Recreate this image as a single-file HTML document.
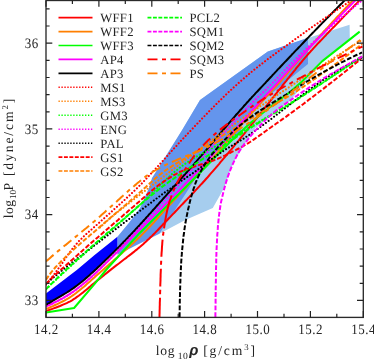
<!DOCTYPE html>
<html><head><meta charset="utf-8"><title>EOS</title>
<style>
html,body{margin:0;padding:0;background:#fff;}
body{width:374px;height:359px;position:relative;overflow:hidden;font-family:"Liberation Serif",serif;}
text{font-family:"Liberation Serif",serif;fill:#222;}
.lg{font-size:12.7px;letter-spacing:0.3px;}
.tk{font-size:14.4px;letter-spacing:0.6px;}
.ax{font-size:13.6px;letter-spacing:0px;}
</style></head><body>
<svg width="374" height="359" viewBox="0 0 374 359" style="position:absolute;left:0;top:0">
<defs><clipPath id="cp"><rect x="46" y="0" width="317.3" height="317.4"/></clipPath></defs>
<g clip-path="url(#cp)">
<polygon points="159.4,233.8 185.3,220.1 212.8,208.1 224.1,188.0 228.8,174.0 234.0,161.7 245.0,143.6 255.3,128.0 290.0,100.7 326.0,57.5 349.8,38.4 349.6,24.7 308.0,38.0 267.8,51.4 200.0,100.0 160.0,167.5" fill="#a6cdee"/>
<polygon points="117.4,236.7 128.8,223.0 140.0,208.0 149.0,188.0 152.0,178.0 182.1,130.0 200.0,100.0 267.8,51.4 308.0,37.8 308.0,64.0 256.8,105.6 241.0,121.0 241.0,134.0 220.3,145.0 198.9,173.0 184.8,195.0 159.4,233.8 117.4,254.8" fill="#6495ed"/>
<polygon points="46.0,293.4 76.8,270.0 94.0,255.4 117.4,236.7 117.4,249.5 94.0,272.0 70.7,291.0 53.4,301.0 46.0,305.6" fill="#0000ff"/>
<path d="M46.0,311.0 L47.9,310.4 L49.8,309.8 L51.7,309.1 L53.6,308.4 L55.5,307.7 L57.4,307.0 L59.3,306.3 L61.1,305.5 L63.0,304.7 L64.9,303.9 L66.7,303.1 L68.5,302.2 L70.3,301.3 L72.0,300.3 L73.7,299.2 L75.4,298.1 L77.0,296.9 L78.7,295.7 L80.3,294.5 L81.9,293.3 L83.5,292.1 L85.0,290.8 L86.6,289.5 L88.1,288.2 L89.7,286.9 L91.2,285.6 L92.7,284.3 L94.3,283.0 L95.8,281.7 L97.4,280.4 L99.0,279.2 L100.5,277.9 L102.1,276.6 L103.7,275.4 L105.2,274.1 L106.8,272.9 L108.4,271.6 L109.9,270.4 L111.5,269.1 L113.1,267.9 L114.7,266.6 L116.3,265.4 L117.9,264.2 L119.5,263.0 L121.1,261.7 L122.7,260.5 L124.3,259.3 L125.9,258.1 L127.5,256.8 L129.1,255.6 L130.7,254.4 L132.3,253.1 L133.9,251.9 L135.4,250.6 L137.0,249.4 L138.5,248.1 L140.1,246.8 L141.6,245.5 L143.1,244.2 L144.6,242.8 L146.1,241.5 L147.6,240.1 L149.1,238.7 L150.5,237.3 L152.0,235.9 L153.4,234.5 L154.8,233.1 L156.2,231.6 L157.6,230.2 L159.0,228.7 L160.4,227.2 L161.8,225.8 L163.1,224.3 L164.5,222.9 L165.9,221.4 L167.3,220.0 L168.7,218.5 L170.1,217.1 L171.5,215.6 L172.9,214.1 L174.3,212.7 L175.7,211.2 L177.1,209.8 L178.5,208.3 L179.8,206.9 L181.2,205.4 L182.6,204.0 L184.0,202.5 L185.4,201.0 L186.8,199.6 L188.2,198.1 L189.6,196.7 L191.0,195.2 L192.4,193.8 L193.8,192.3 L195.1,190.8 L196.5,189.4 L197.9,187.9 L199.3,186.4 L200.6,184.9 L202.0,183.5 L203.3,182.0 L204.7,180.5 L206.0,179.0 L207.4,177.5 L208.7,176.0 L210.0,174.4 L211.3,172.9 L212.7,171.4 L214.0,169.9 L215.3,168.4 L216.6,166.8 L217.9,165.3 L219.2,163.8 L220.5,162.2 L221.8,160.7 L223.1,159.1 L224.4,157.6 L225.7,156.1 L227.0,154.5 L228.3,153.0 L229.6,151.4 L230.9,149.9 L232.2,148.3 L233.4,146.8 L234.7,145.2 L236.0,143.7 L237.3,142.1 L238.6,140.6 L239.8,139.0 L241.1,137.5 L242.4,135.9 L243.7,134.3 L244.9,132.8 L246.2,131.2 L247.5,129.6 L248.7,128.1 L250.0,126.5 L251.2,124.9 L252.5,123.4 L253.8,121.8 L255.0,120.2 L256.3,118.6 L257.5,117.1 L258.8,115.5 L260.0,113.9 L261.3,112.3 L262.5,110.8 L263.8,109.2 L265.0,107.6 L266.3,106.0 L267.5,104.4 L268.8,102.9 L270.0,101.3 L271.3,99.7 L272.5,98.1 L273.8,96.6 L275.0,95.0 L276.3,93.4 L277.5,91.8 L278.8,90.2 L280.0,88.7 L281.3,87.1 L282.5,85.5 L283.8,83.9 L285.0,82.4 L286.3,80.8 L287.5,79.2 L288.8,77.6 L290.0,76.0 L291.3,74.5 L292.6,72.9 L293.8,71.3 L295.1,69.8 L296.3,68.2 L297.6,66.6 L298.9,65.1 L300.2,63.5 L301.5,62.0 L302.8,60.4 L304.1,58.9 L305.4,57.4 L306.7,55.9 L308.0,54.3 L309.4,52.8 L310.7,51.3 L312.1,49.9 L313.4,48.4 L314.8,46.9 L316.2,45.4 L317.5,43.9 L318.9,42.5 L320.3,41.0 L321.7,39.6 L323.1,38.1 L324.5,36.6 L325.9,35.2 L327.2,33.7 L328.6,32.3 L330.0,30.8 L331.4,29.4 L332.8,27.9 L334.3,26.5 L335.7,25.1 L337.1,23.6 L338.4,22.2 L339.8,20.7 L341.2,19.3 L342.6,17.8 L344.0,16.4 L345.4,14.9 L346.8,13.5 L348.2,12.0 L349.6,10.6 L351.1,9.1 L352.5,7.7 L353.9,6.3 L355.3,4.8 L356.7,3.4 L358.1,1.9 L359.5,0.5" fill="none" stroke="#f00" stroke-width="2.0" stroke-linejoin="round"/>
<path d="M46.0,309.0 L47.9,308.3 L49.7,307.5 L51.6,306.7 L53.4,305.9 L55.2,305.0 L57.1,304.2 L58.9,303.3 L60.7,302.4 L62.5,301.5 L64.3,300.6 L66.0,299.6 L67.8,298.6 L69.5,297.6 L71.2,296.5 L72.8,295.4 L74.5,294.2 L76.1,293.0 L77.6,291.8 L79.2,290.5 L80.8,289.2 L82.3,288.0 L83.9,286.7 L85.4,285.4 L86.9,284.0 L88.4,282.7 L89.9,281.4 L91.4,280.0 L92.9,278.7 L94.4,277.4 L95.9,276.0 L97.4,274.7 L99.0,273.4 L100.5,272.1 L102.0,270.7 L103.5,269.4 L105.0,268.1 L106.5,266.8 L108.0,265.4 L109.5,264.1 L111.0,262.8 L112.5,261.5 L114.1,260.1 L115.6,258.8 L117.1,257.5 L118.6,256.1 L120.1,254.8 L121.6,253.5 L123.1,252.1 L124.6,250.8 L126.1,249.5 L127.6,248.1 L129.1,246.8 L130.6,245.4 L132.0,244.0 L133.5,242.7 L135.0,241.3 L136.4,239.9 L137.9,238.5 L139.3,237.2 L140.8,235.8 L142.2,234.4 L143.6,232.9 L145.0,231.5 L146.4,230.1 L147.8,228.6 L149.2,227.2 L150.6,225.7 L152.0,224.2 L153.4,222.8 L154.7,221.3 L156.1,219.8 L157.5,218.3 L158.8,216.9 L160.1,215.4 L161.5,213.9 L162.8,212.4 L164.2,210.9 L165.5,209.4 L166.9,207.9 L168.3,206.4 L169.6,205.0 L171.0,203.5 L172.4,202.0 L173.7,200.6 L175.1,199.1 L176.5,197.6 L177.9,196.2 L179.2,194.7 L180.6,193.2 L182.0,191.8 L183.4,190.3 L184.7,188.8 L186.1,187.4 L187.5,185.9 L188.8,184.4 L190.2,183.0 L191.6,181.5 L192.9,180.0 L194.3,178.5 L195.7,177.1 L197.0,175.6 L198.4,174.1 L199.7,172.6 L201.1,171.1 L202.4,169.6 L203.8,168.1 L205.1,166.6 L206.4,165.1 L207.8,163.6 L209.1,162.1 L210.4,160.6 L211.8,159.1 L213.1,157.6 L214.4,156.1 L215.7,154.6 L217.1,153.1 L218.4,151.6 L219.7,150.0 L221.0,148.5 L222.3,147.0 L223.7,145.5 L225.0,144.0 L226.3,142.5 L227.6,140.9 L228.9,139.4 L230.2,137.9 L231.6,136.4 L232.9,134.9 L234.2,133.3 L235.5,131.8 L236.8,130.3 L238.1,128.8 L239.4,127.3 L240.7,125.7 L242.0,124.2 L243.3,122.7 L244.6,121.1 L245.9,119.6 L247.3,118.1 L248.6,116.6 L249.9,115.0 L251.2,113.5 L252.6,112.0 L253.9,110.6 L255.2,109.1 L256.6,107.6 L258.0,106.1 L259.3,104.6 L260.7,103.1 L262.0,101.6 L263.4,100.1 L264.7,98.6 L266.1,97.2 L267.4,95.7 L268.8,94.2 L270.1,92.7 L271.5,91.2 L272.8,89.7 L274.2,88.3 L275.5,86.8 L276.9,85.3 L278.2,83.8 L279.5,82.3 L280.9,80.8 L282.2,79.3 L283.5,77.7 L284.8,76.2 L286.2,74.7 L287.5,73.2 L288.8,71.7 L290.1,70.1 L291.4,68.6 L292.7,67.1 L294.0,65.6 L295.3,64.0 L296.6,62.5 L298.0,61.0 L299.3,59.5 L300.6,58.0 L301.9,56.4 L303.2,54.9 L304.5,53.4 L305.8,51.8 L307.1,50.3 L308.4,48.8 L309.8,47.3 L311.1,45.8 L312.4,44.3 L313.7,42.8 L315.1,41.3 L316.4,39.8 L317.8,38.3 L319.1,36.8 L320.4,35.3 L321.8,33.8 L323.1,32.3 L324.5,30.8 L325.8,29.3 L327.2,27.9 L328.6,26.4 L329.9,24.9 L331.3,23.4 L332.6,21.9 L334.0,20.5 L335.4,19.0 L336.7,17.5 L338.1,16.0 L339.5,14.6 L340.8,13.1 L342.2,11.6 L343.6,10.2 L345.0,8.7 L346.4,7.3 L347.7,5.8 L349.1,4.4 L350.5,2.9 L351.9,1.4 L353.3,0.0" fill="none" stroke="#ff7f00" stroke-width="2.0" stroke-linejoin="round"/>
<path d="M46.0,312.5 L74.1,308.0 L94.0,284.7 L106.0,270.0 L140.0,232.7 L166.4,206.4 L200.0,172.7 L230.0,142.0 L250.0,123.2 L271.4,106.0 L290.0,92.1 L301.4,82.1 L322.0,61.4 L359.7,31.6" fill="none" stroke="#0f0" stroke-width="2.0" stroke-linejoin="round"/>
<path d="M46.0,306.5 L47.8,305.7 L49.7,304.9 L51.5,304.0 L53.3,303.1 L55.1,302.2 L56.9,301.3 L58.7,300.4 L60.5,299.4 L62.3,298.5 L64.0,297.5 L65.8,296.4 L67.5,295.4 L69.2,294.3 L70.9,293.2 L72.5,292.1 L74.2,291.0 L75.8,289.8 L77.4,288.5 L79.0,287.3 L80.6,286.0 L82.2,284.8 L83.7,283.5 L85.3,282.2 L86.8,280.9 L88.3,279.6 L89.9,278.3 L91.4,276.9 L92.9,275.6 L94.4,274.2 L95.8,272.9 L97.3,271.5 L98.8,270.1 L100.2,268.7 L101.7,267.3 L103.1,265.9 L104.6,264.5 L106.0,263.1 L107.4,261.7 L108.9,260.2 L110.3,258.8 L111.8,257.4 L113.2,256.0 L114.6,254.6 L116.1,253.2 L117.5,251.8 L118.9,250.3 L120.3,248.9 L121.8,247.5 L123.2,246.1 L124.6,244.6 L126.1,243.2 L127.5,241.8 L128.9,240.4 L130.3,239.0 L131.8,237.5 L133.2,236.1 L134.6,234.7 L136.1,233.3 L137.5,231.9 L138.9,230.4 L140.4,229.0 L141.8,227.6 L143.2,226.2 L144.7,224.8 L146.1,223.4 L147.5,221.9 L149.0,220.5 L150.4,219.1 L151.8,217.7 L153.3,216.3 L154.7,214.9 L156.1,213.4 L157.6,212.0 L159.0,210.6 L160.4,209.2 L161.9,207.8 L163.3,206.3 L164.7,204.9 L166.1,203.5 L167.5,202.1 L169.0,200.6 L170.4,199.2 L171.8,197.8 L173.2,196.3 L174.6,194.9 L176.0,193.4 L177.5,192.0 L178.9,190.6 L180.3,189.1 L181.7,187.7 L183.1,186.2 L184.5,184.8 L185.9,183.3 L187.3,181.9 L188.7,180.4 L190.1,179.0 L191.5,177.5 L192.9,176.1 L194.3,174.6 L195.7,173.2 L197.1,171.7 L198.4,170.2 L199.8,168.8 L201.2,167.3 L202.6,165.8 L203.9,164.3 L205.3,162.9 L206.7,161.4 L208.0,159.9 L209.4,158.4 L210.7,156.9 L212.1,155.4 L213.4,153.9 L214.8,152.4 L216.1,150.9 L217.5,149.4 L218.8,147.9 L220.2,146.4 L221.5,144.9 L222.9,143.4 L224.2,141.9 L225.5,140.4 L226.9,138.9 L228.2,137.4 L229.6,135.9 L230.9,134.4 L232.2,132.9 L233.6,131.4 L234.9,129.9 L236.3,128.4 L237.6,126.8 L238.9,125.3 L240.3,123.8 L241.6,122.3 L243.0,120.8 L244.3,119.3 L245.6,117.8 L247.0,116.3 L248.3,114.8 L249.6,113.3 L251.0,111.8 L252.3,110.3 L253.7,108.8 L255.1,107.3 L256.4,105.8 L257.8,104.3 L259.1,102.8 L260.5,101.3 L261.8,99.9 L263.2,98.4 L264.5,96.9 L265.9,95.4 L267.2,93.9 L268.6,92.4 L270.0,90.9 L271.3,89.4 L272.7,87.9 L274.0,86.4 L275.4,84.9 L276.7,83.4 L278.1,81.9 L279.4,80.4 L280.8,78.9 L282.1,77.4 L283.5,75.9 L284.8,74.4 L286.2,72.9 L287.5,71.4 L288.9,69.9 L290.2,68.4 L291.6,66.9 L292.9,65.5 L294.3,64.0 L295.7,62.5 L297.0,61.0 L298.4,59.5 L299.8,58.1 L301.1,56.6 L302.5,55.1 L303.9,53.7 L305.3,52.2 L306.7,50.7 L308.1,49.3 L309.5,47.8 L310.8,46.3 L312.2,44.9 L313.6,43.4 L315.0,42.0 L316.4,40.5 L317.8,39.1 L319.2,37.6 L320.6,36.1 L322.0,34.7 L323.4,33.2 L324.8,31.8 L326.2,30.3 L327.6,28.9 L329.0,27.4 L330.4,26.0 L331.8,24.5 L333.2,23.1 L334.6,21.6 L336.0,20.2 L337.4,18.7 L338.8,17.3 L340.2,15.8 L341.6,14.4 L343.0,12.9 L344.4,11.5 L345.8,10.1 L347.2,8.6 L348.6,7.2 L350.0,5.7 L351.5,4.3 L352.9,2.9 L354.3,1.4 L355.7,-0.0" fill="none" stroke="#f0f" stroke-width="2.0" stroke-linejoin="round"/>
<path d="M46.0,304.8 L47.7,303.8 L49.5,302.8 L51.2,301.8 L52.9,300.7 L54.7,299.7 L56.4,298.7 L58.1,297.7 L59.9,296.6 L61.6,295.6 L63.3,294.6 L65.1,293.5 L66.8,292.5 L68.5,291.4 L70.2,290.3 L71.8,289.2 L73.5,288.1 L75.1,286.9 L76.7,285.7 L78.3,284.5 L79.9,283.3 L81.5,282.0 L83.1,280.7 L84.6,279.5 L86.1,278.1 L87.7,276.8 L89.2,275.5 L90.6,274.1 L92.1,272.8 L93.6,271.4 L95.1,270.0 L96.6,268.7 L98.0,267.3 L99.5,265.9 L101.0,264.5 L102.4,263.1 L103.9,261.7 L105.3,260.3 L106.7,258.9 L108.2,257.5 L109.6,256.1 L111.0,254.7 L112.5,253.3 L113.9,251.9 L115.3,250.4 L116.7,249.0 L118.2,247.6 L119.6,246.2 L121.0,244.7 L122.4,243.3 L123.8,241.8 L125.2,240.4 L126.6,238.9 L128.0,237.5 L129.3,236.0 L130.7,234.6 L132.1,233.1 L133.5,231.6 L134.9,230.2 L136.2,228.7 L137.6,227.2 L139.0,225.8 L140.3,224.3 L141.7,222.8 L143.0,221.3 L144.4,219.8 L145.7,218.3 L147.1,216.8 L148.4,215.3 L149.8,213.8 L151.1,212.3 L152.4,210.8 L153.8,209.3 L155.1,207.8 L156.4,206.3 L157.8,204.8 L159.1,203.3 L160.5,201.8 L161.8,200.3 L163.1,198.8 L164.5,197.3 L165.8,195.8 L167.1,194.3 L168.5,192.8 L169.8,191.3 L171.1,189.8 L172.5,188.3 L173.8,186.8 L175.2,185.3 L176.5,183.8 L177.8,182.3 L179.2,180.8 L180.5,179.3 L181.9,177.8 L183.2,176.3 L184.6,174.8 L185.9,173.3 L187.3,171.8 L188.6,170.3 L189.9,168.8 L191.3,167.3 L192.6,165.8 L193.9,164.3 L195.2,162.7 L196.6,161.2 L197.9,159.7 L199.2,158.2 L200.5,156.7 L201.8,155.1 L203.1,153.6 L204.4,152.1 L205.8,150.6 L207.1,149.0 L208.4,147.5 L209.7,146.0 L211.0,144.4 L212.3,142.9 L213.6,141.4 L214.8,139.8 L216.1,138.3 L217.4,136.7 L218.7,135.2 L220.0,133.6 L221.3,132.1 L222.6,130.6 L223.9,129.0 L225.2,127.5 L226.5,126.0 L227.8,124.5 L229.2,122.9 L230.5,121.4 L231.8,119.9 L233.1,118.4 L234.4,116.9 L235.7,115.3 L237.1,113.8 L238.4,112.3 L239.7,110.8 L241.1,109.3 L242.4,107.8 L243.7,106.3 L245.1,104.8 L246.4,103.3 L247.8,101.8 L249.1,100.3 L250.5,98.8 L251.8,97.3 L253.2,95.9 L254.6,94.4 L255.9,92.9 L257.3,91.5 L258.7,90.0 L260.1,88.5 L261.4,87.1 L262.8,85.6 L264.2,84.1 L265.6,82.7 L266.9,81.2 L268.3,79.7 L269.7,78.3 L271.1,76.8 L272.4,75.3 L273.8,73.9 L275.2,72.4 L276.6,70.9 L277.9,69.4 L279.3,68.0 L280.7,66.5 L282.1,65.0 L283.4,63.6 L284.8,62.1 L286.2,60.7 L287.6,59.2 L289.0,57.7 L290.4,56.3 L291.7,54.8 L293.1,53.4 L294.5,51.9 L295.9,50.4 L297.3,49.0 L298.7,47.5 L300.1,46.1 L301.5,44.6 L302.8,43.2 L304.2,41.7 L305.6,40.3 L307.0,38.8 L308.4,37.4 L309.8,35.9 L311.2,34.5 L312.6,33.0 L314.0,31.6 L315.4,30.1 L316.8,28.7 L318.2,27.3 L319.6,25.8 L321.0,24.4 L322.4,22.9 L323.8,21.5 L325.2,20.1 L326.6,18.6 L328.0,17.2 L329.5,15.7 L330.9,14.3 L332.3,12.9 L333.7,11.4 L335.1,10.0 L336.5,8.6 L337.9,7.1 L339.3,5.7 L340.7,4.3 L342.2,2.9 L343.6,1.4 L345.0,0.0" fill="none" stroke="#000" stroke-width="2.0" stroke-linejoin="round"/>
<path d="M46.0,284.5 L47.3,283.0 L48.6,281.4 L49.8,279.8 L51.1,278.3 L52.3,276.7 L53.6,275.1 L54.8,273.5 L56.0,271.9 L57.2,270.3 L58.3,268.6 L59.5,267.0 L60.7,265.4 L61.8,263.7 L63.0,262.0 L64.1,260.4 L65.2,258.7 L66.4,257.1 L67.5,255.4 L68.7,253.8 L69.9,252.2 L71.1,250.6 L72.3,249.0 L73.6,247.4 L74.9,245.8 L76.1,244.3 L77.5,242.8 L78.8,241.3 L80.2,239.9 L81.7,238.5 L83.1,237.0 L84.6,235.6 L86.0,234.3 L87.5,232.9 L89.0,231.6 L90.5,230.3 L92.1,229.0 L93.6,227.6 L95.1,226.3 L96.6,225.0 L98.1,223.6 L99.6,222.3 L101.1,220.9 L102.6,219.6 L104.1,218.3 L105.6,216.9 L107.1,215.6 L108.6,214.3 L110.1,212.9 L111.6,211.6 L113.1,210.3 L114.6,208.9 L116.1,207.6 L117.6,206.2 L119.1,204.9 L120.6,203.5 L122.1,202.2 L123.6,200.8 L125.1,199.5 L126.5,198.1 L128.0,196.7 L129.5,195.4 L131.0,194.0 L132.4,192.6 L133.9,191.2 L135.3,189.8 L136.8,188.4 L138.2,187.0 L139.6,185.6 L141.0,184.2 L142.5,182.8 L143.8,181.3 L145.2,179.9 L146.6,178.4 L148.0,176.9 L149.4,175.5 L150.7,174.0 L152.1,172.5 L153.5,171.1 L154.8,169.6 L156.2,168.1 L157.6,166.6 L158.9,165.1 L160.3,163.6 L161.6,162.1 L163.0,160.7 L164.3,159.2 L165.7,157.7 L167.0,156.2 L168.4,154.7 L169.7,153.2 L171.0,151.7 L172.4,150.2 L173.8,148.7 L175.1,147.2 L176.5,145.8 L177.8,144.3 L179.2,142.8 L180.5,141.3 L181.9,139.8 L183.3,138.4 L184.7,136.9 L186.0,135.4 L187.4,134.0 L188.8,132.5 L190.2,131.1 L191.6,129.6 L193.0,128.2 L194.3,126.7 L195.7,125.2 L197.1,123.8 L198.5,122.3 L199.9,120.9 L201.3,119.4 L202.7,118.0 L204.1,116.5 L205.5,115.1 L206.9,113.6 L208.3,112.2 L209.7,110.7 L211.1,109.3 L212.5,107.9 L213.9,106.5 L215.4,105.0 L216.8,103.6 L218.2,102.2 L219.6,100.8 L221.1,99.4 L222.5,98.0 L223.9,96.6 L225.4,95.2 L226.8,93.8 L228.3,92.4 L229.8,91.0 L231.2,89.7 L232.7,88.3 L234.2,86.9 L235.7,85.6 L237.2,84.2 L238.7,82.9 L240.2,81.5 L241.7,80.2 L243.2,78.9 L244.7,77.6 L246.3,76.3 L247.8,75.0 L249.3,73.7 L250.9,72.4 L252.4,71.2 L254.0,69.9 L255.6,68.6 L257.1,67.4 L258.7,66.1 L260.3,64.9 L261.9,63.7 L263.5,62.5 L265.1,61.2 L266.7,60.0 L268.3,58.8 L269.9,57.6 L271.5,56.4 L273.1,55.2 L274.7,54.0 L276.4,52.8 L278.0,51.6 L279.6,50.4 L281.2,49.2 L282.9,48.0 L284.5,46.9 L286.1,45.7 L287.8,44.5 L289.4,43.3 L291.0,42.2 L292.7,41.0 L294.3,39.8 L295.9,38.6 L297.6,37.5 L299.2,36.3 L300.8,35.1 L302.5,34.0 L304.1,32.8 L305.7,31.6 L307.4,30.5 L309.0,29.3 L310.7,28.1 L312.3,27.0 L313.9,25.8 L315.6,24.7 L317.2,23.5 L318.9,22.4 L320.5,21.2 L322.2,20.1 L323.8,18.9 L325.5,17.8 L327.2,16.6 L328.8,15.5 L330.5,14.4 L332.1,13.2 L333.8,12.1 L335.5,11.0 L337.1,9.8 L338.8,8.7 L340.5,7.6 L342.1,6.5 L343.8,5.4 L345.5,4.2 L347.1,3.1 L348.8,2.0 L350.5,0.9" fill="none" stroke="#f00" stroke-width="2.1" stroke-linejoin="round" stroke-dasharray="0.01 3.4" stroke-linecap="round"/>
<path d="M100.0,227.5 L101.5,226.1 L102.9,224.7 L104.4,223.3 L105.9,222.0 L107.4,220.7 L108.9,219.3 L110.5,218.0 L112.0,216.7 L113.5,215.5 L115.1,214.2 L116.7,212.9 L118.2,211.6 L119.8,210.4 L121.4,209.1 L123.0,207.9 L124.6,206.6 L126.1,205.4 L127.7,204.2 L129.3,202.9 L130.9,201.7 L132.5,200.4 L134.1,199.2 L135.7,198.0 L137.3,196.7 L138.9,195.5 L140.5,194.3 L142.1,193.0 L143.7,191.8 L145.3,190.5 L146.8,189.3 L148.4,188.1 L150.0,186.9 L151.6,185.6 L153.2,184.4 L154.8,183.2 L156.5,182.0 L158.1,180.7 L159.7,179.5 L161.3,178.3 L162.9,177.1 L164.5,175.9 L166.1,174.6 L167.7,173.4 L169.3,172.2 L170.9,171.0 L172.5,169.7 L174.1,168.5 L175.7,167.3 L177.3,166.1 L178.9,164.8 L180.5,163.6 L182.1,162.4 L183.7,161.2 L185.3,160.0 L186.9,158.8 L188.5,157.6 L190.1,156.3 L191.8,155.1 L193.4,153.9 L195.0,152.7 L196.6,151.5 L198.2,150.3 L199.8,149.1 L201.4,147.9 L203.1,146.7 L204.7,145.5 L206.3,144.3 L207.9,143.1 L209.5,141.9 L211.2,140.7 L212.8,139.5 L214.4,138.3 L216.0,137.1 L217.7,135.9 L219.3,134.7 L220.9,133.6 L222.6,132.4 L224.2,131.2 L225.8,130.0 L227.5,128.9 L229.1,127.7 L230.8,126.5 L232.4,125.4 L234.1,124.2 L235.7,123.1 L237.4,121.9 L239.0,120.8 L240.7,119.6 L242.3,118.5 L244.0,117.3 L245.6,116.2 L247.3,115.0 L249.0,113.9 L250.6,112.8 L252.3,111.6 L254.0,110.5 L255.6,109.4 L257.3,108.3 L259.0,107.1 L260.7,106.0 L262.3,104.9 L264.0,103.8 L265.7,102.6 L267.4,101.5 L269.0,100.4 L270.7,99.3 L272.4,98.2 L274.1,97.1 L275.8,95.9 L277.4,94.8 L279.1,93.7 L280.8,92.6 L282.5,91.5 L284.2,90.4 L285.9,89.3 L287.5,88.2 L289.2,87.1 L290.9,85.9 L292.6,84.8 L294.3,83.7 L296.0,82.6 L297.6,81.5 L299.3,80.4 L301.0,79.3 L302.7,78.2 L304.4,77.1 L306.1,76.0 L307.7,74.9 L309.4,73.8 L311.1,72.7 L312.8,71.6 L314.5,70.5 L316.2,69.4 L317.9,68.3 L319.6,67.2 L321.3,66.1 L322.9,65.0 L324.6,63.9 L326.3,62.8 L328.0,61.7 L329.7,60.6 L331.4,59.5 L333.1,58.4 L334.8,57.3 L336.5,56.2 L338.2,55.2 L339.9,54.1 L341.6,53.0 L343.3,51.9 L345.0,50.8 L346.7,49.7 L348.4,48.6 L350.1,47.6 L351.8,46.5 L353.5,45.4 L355.2,44.3 L356.9,43.2 L358.6,42.2 L360.3,41.1 L362.0,40.0" fill="none" stroke="#ff7f00" stroke-width="2.1" stroke-linejoin="round" stroke-dasharray="0.01 3.4" stroke-linecap="round"/>
<path d="M46.0,289.0 L47.5,287.6 L49.0,286.2 L50.4,284.9 L51.9,283.5 L53.4,282.1 L54.9,280.7 L56.4,279.4 L57.8,278.0 L59.3,276.6 L60.8,275.3 L62.3,273.9 L63.8,272.5 L65.3,271.2 L66.8,269.8 L68.3,268.4 L69.7,267.1 L71.2,265.7 L72.7,264.3 L74.2,263.0 L75.7,261.6 L77.2,260.2 L78.7,258.9 L80.2,257.5 L81.7,256.2 L83.2,254.8 L84.7,253.5 L86.2,252.1 L87.7,250.8 L89.2,249.4 L90.7,248.1 L92.2,246.7 L93.7,245.4 L95.2,244.0 L96.7,242.7 L98.3,241.4 L99.8,240.1 L101.3,238.7 L102.8,237.4 L104.4,236.1 L105.9,234.8 L107.5,233.5 L109.0,232.2 L110.5,230.9 L112.1,229.5 L113.6,228.2 L115.1,226.9 L116.6,225.6 L118.2,224.2 L119.7,222.9 L121.2,221.6 L122.7,220.2 L124.2,218.9 L125.7,217.6 L127.2,216.2 L128.8,214.9 L130.3,213.5 L131.8,212.2 L133.3,210.8 L134.8,209.5 L136.3,208.1 L137.7,206.8 L139.2,205.4 L140.7,204.0 L142.2,202.6 L143.7,201.3 L145.1,199.9 L146.6,198.4 L148.0,197.0 L149.5,195.6 L150.9,194.2 L152.4,192.8 L153.8,191.3 L155.2,189.9 L156.7,188.5 L158.1,187.1 L159.6,185.7 L161.0,184.2 L162.5,182.8 L163.9,181.4 L165.4,180.1 L166.9,178.7 L168.4,177.3 L169.9,176.0 L171.4,174.6 L172.9,173.3 L174.4,172.0 L176.0,170.7 L177.5,169.5 L179.1,168.2 L180.7,167.0 L182.4,165.8 L184.0,164.6 L185.7,163.4 L187.3,162.3 L189.0,161.2 L190.7,160.2 L192.4,159.1 L194.1,158.1 L195.9,157.0 L197.6,156.0 L199.4,155.0 L201.1,154.0 L202.9,153.1 L204.7,152.1 L206.5,151.1 L208.3,150.2 L210.0,149.2 L211.8,148.3 L213.6,147.3 L215.4,146.4 L217.2,145.4 L219.0,144.5 L220.8,143.5 L222.6,142.6 L224.4,141.6 L226.1,140.6 L227.9,139.7 L229.7,138.7 L231.4,137.7 L233.2,136.7 L234.9,135.7 L236.7,134.7 L238.5,133.7 L240.2,132.7 L242.0,131.7 L243.7,130.7 L245.5,129.7 L247.2,128.7 L249.0,127.7 L250.7,126.7 L252.5,125.7 L254.2,124.7 L256.0,123.6 L257.7,122.6 L259.5,121.6 L261.2,120.6 L262.9,119.5 L264.7,118.5 L266.4,117.5 L268.1,116.4 L269.9,115.4 L271.6,114.3 L273.3,113.3 L275.1,112.3 L276.8,111.3 L278.6,110.3 L280.3,109.2 L282.1,108.2 L283.8,107.2 L285.5,106.1 L287.3,105.1 L289.0,104.1 L290.7,103.0 L292.4,102.0 L294.1,100.9 L295.9,99.8 L297.6,98.7 L299.3,97.7 L301.0,96.6 L302.7,95.5 L304.4,94.4 L306.1,93.3 L307.8,92.2 L309.5,91.1 L311.2,90.0 L312.9,88.9 L314.6,87.9 L316.3,86.8 L318.0,85.7 L319.7,84.6 L321.4,83.5 L323.1,82.4 L324.8,81.3 L326.5,80.2 L328.2,79.1 L329.9,78.0 L331.6,76.9 L333.3,75.8 L335.0,74.7 L336.7,73.6 L338.4,72.5 L340.0,71.4 L341.7,70.3 L343.4,69.2 L345.1,68.1 L346.8,67.0 L348.5,65.9 L350.2,64.8 L351.9,63.7 L353.6,62.6 L355.3,61.5 L356.9,60.3 L358.6,59.2 L360.3,58.1 L362.0,57.0" fill="none" stroke="#0f0" stroke-width="2.1" stroke-linejoin="round" stroke-dasharray="0.01 3.4" stroke-linecap="round"/>
<path d="M46.0,306.5 L47.8,305.7 L49.7,304.9 L51.5,304.0 L53.3,303.1 L55.1,302.2 L56.9,301.3 L58.7,300.4 L60.5,299.4 L62.3,298.5 L64.0,297.5 L65.8,296.4 L67.5,295.4 L69.2,294.3 L70.9,293.3 L72.5,292.1 L74.2,291.0 L75.8,289.8 L77.4,288.5 L79.0,287.3 L80.6,286.0 L82.2,284.8 L83.7,283.5 L85.3,282.2 L86.8,280.9 L88.3,279.6 L89.9,278.3 L91.4,276.9 L92.9,275.6 L94.4,274.2 L95.8,272.9 L97.3,271.5 L98.7,270.0 L100.1,268.6 L101.6,267.2 L103.0,265.8 L104.4,264.4 L105.8,262.9 L107.3,261.5 L108.7,260.1 L110.1,258.6 L111.5,257.2 L112.9,255.7 L114.3,254.3 L115.7,252.9 L117.1,251.4 L118.5,250.0 L119.9,248.5 L121.3,247.0 L122.7,245.6 L124.1,244.1 L125.5,242.7 L126.9,241.2 L128.3,239.8 L129.6,238.3 L131.0,236.8 L132.4,235.4 L133.8,233.9 L135.2,232.4 L136.6,231.0 L137.9,229.5 L139.3,228.0 L140.7,226.6 L142.1,225.1 L143.5,223.6 L144.8,222.1 L146.2,220.7 L147.6,219.2 L148.9,217.7 L150.3,216.2 L151.7,214.8 L153.0,213.3 L154.4,211.8 L155.8,210.3 L157.1,208.8 L158.5,207.3 L159.8,205.8 L161.2,204.3 L162.5,202.8 L163.9,201.3 L165.2,199.8 L166.6,198.3 L167.9,196.8 L169.3,195.3 L170.6,193.8 L171.9,192.3 L173.3,190.8 L174.6,189.3 L175.9,187.8 L177.3,186.3 L178.6,184.8 L179.9,183.3 L181.3,181.7 L182.6,180.2 L183.9,178.7 L185.2,177.2 L186.6,175.7 L187.9,174.2 L189.2,172.7 L190.6,171.1 L191.9,169.6 L193.2,168.1 L194.6,166.6 L195.9,165.1 L197.2,163.6 L198.5,162.1 L199.9,160.5 L201.2,159.0 L202.5,157.5 L203.8,156.0 L205.1,154.4 L206.5,152.9 L207.8,151.4 L209.1,149.9 L210.4,148.4 L211.8,146.8 L213.1,145.3 L214.4,143.8 L215.7,142.3 L217.1,140.8 L218.4,139.3 L219.7,137.8 L221.1,136.2 L222.4,134.7 L223.7,133.2 L225.1,131.7 L226.4,130.2 L227.8,128.7 L229.1,127.2 L230.5,125.8 L231.9,124.3 L233.2,122.8 L234.6,121.3 L235.9,119.8 L237.3,118.3 L238.7,116.8 L240.0,115.4 L241.4,113.9 L242.8,112.4 L244.2,111.0 L245.6,109.5 L247.0,108.1 L248.4,106.6 L249.8,105.2 L251.2,103.7 L252.6,102.3 L254.1,100.9 L255.5,99.5 L257.0,98.1 L258.4,96.7 L259.9,95.3 L261.3,93.9 L262.8,92.5 L264.2,91.1 L265.7,89.7 L267.1,88.3 L268.5,86.9 L270.0,85.5 L271.4,84.0 L272.8,82.6 L274.2,81.2 L275.7,79.8 L277.1,78.3 L278.5,76.9 L279.9,75.4 L281.3,74.0 L282.6,72.5 L284.0,71.0 L285.4,69.6 L286.8,68.1 L288.2,66.7 L289.6,65.2 L291.0,63.8 L292.4,62.3 L293.8,60.9 L295.3,59.5 L296.7,58.0 L298.1,56.6 L299.6,55.2 L301.0,53.8 L302.4,52.4 L303.9,51.0 L305.3,49.6 L306.8,48.2 L308.3,46.8 L309.7,45.4 L311.2,44.1 L312.7,42.7 L314.2,41.4 L315.7,40.0 L317.2,38.6 L318.7,37.3 L320.2,36.0 L321.7,34.6 L323.2,33.3 L324.7,32.0 L326.2,30.6 L327.7,29.3 L329.3,28.0 L330.8,26.7 L332.3,25.4 L333.8,24.0 L335.4,22.7 L336.9,21.4 L338.4,20.1 L340.0,18.8 L341.5,17.5 L343.0,16.2 L344.6,14.9 L346.1,13.6 L347.6,12.3 L349.2,11.0 L350.7,9.7 L352.3,8.4 L353.8,7.1 L355.4,5.8 L356.9,4.5 L358.5,3.3 L360.0,2.0 L361.6,0.7" fill="none" stroke="#f0f" stroke-width="2.1" stroke-linejoin="round" stroke-dasharray="0.01 3.4" stroke-linecap="round"/>
<path d="M46.0,284.0 L47.5,282.7 L49.0,281.3 L50.6,280.0 L52.1,278.7 L53.6,277.4 L55.2,276.1 L56.7,274.8 L58.3,273.5 L59.8,272.2 L61.4,270.9 L62.9,269.7 L64.5,268.4 L66.1,267.2 L67.7,265.9 L69.3,264.7 L70.9,263.5 L72.5,262.2 L74.1,261.0 L75.7,259.8 L77.3,258.5 L78.9,257.3 L80.5,256.1 L82.1,254.9 L83.7,253.7 L85.3,252.5 L86.9,251.2 L88.5,250.0 L90.1,248.8 L91.7,247.6 L93.3,246.3 L94.9,245.1 L96.5,243.9 L98.1,242.7 L99.7,241.4 L101.3,240.2 L102.9,239.0 L104.5,237.7 L106.1,236.5 L107.7,235.3 L109.3,234.0 L110.9,232.8 L112.5,231.6 L114.1,230.4 L115.7,229.1 L117.3,227.9 L118.9,226.7 L120.5,225.5 L122.1,224.2 L123.7,223.0 L125.4,221.8 L127.0,220.6 L128.6,219.4 L130.2,218.2 L131.8,217.0 L133.4,215.8 L135.0,214.6 L136.7,213.4 L138.3,212.1 L139.9,210.9 L141.5,209.7 L143.1,208.5 L144.7,207.3 L146.3,206.1 L148.0,204.9 L149.6,203.7 L151.2,202.5 L152.8,201.3 L154.4,200.0 L156.0,198.9 L157.7,197.7 L159.3,196.5 L160.9,195.3 L162.6,194.1 L164.2,192.9 L165.8,191.8 L167.5,190.6 L169.1,189.4 L170.8,188.3 L172.4,187.1 L174.1,186.0 L175.7,184.8 L177.4,183.6 L179.1,182.5 L180.7,181.3 L182.4,180.2 L184.0,179.1 L185.7,177.9 L187.4,176.8 L189.1,175.7 L190.7,174.5 L192.4,173.4 L194.0,172.3 L195.7,171.1 L197.3,169.9 L199.0,168.7 L200.6,167.5 L202.2,166.3 L203.8,165.1 L205.4,163.9 L207.0,162.7 L208.6,161.4 L210.2,160.2 L211.8,159.0 L213.5,157.8 L215.1,156.6 L216.7,155.5 L218.4,154.3 L220.0,153.2 L221.7,152.0 L223.4,150.9 L225.1,149.8 L226.8,148.7 L228.5,147.6 L230.2,146.6 L232.0,145.6 L233.7,144.6 L235.5,143.6 L237.2,142.6 L238.9,141.5 L240.6,140.5 L242.4,139.4 L244.1,138.3 L245.7,137.2 L247.4,136.1 L249.1,135.0 L250.8,133.8 L252.4,132.7 L254.1,131.5 L255.7,130.3 L257.3,129.2 L259.0,128.0 L260.6,126.8 L262.2,125.6 L263.9,124.4 L265.5,123.2 L267.1,122.0 L268.7,120.8 L270.3,119.6 L271.9,118.4 L273.5,117.1 L275.1,115.9 L276.7,114.7 L278.3,113.4 L279.9,112.2 L281.5,111.0 L283.1,109.7 L284.7,108.5 L286.3,107.3 L287.9,106.1 L289.5,104.8 L291.1,103.6 L292.7,102.4 L294.3,101.2 L295.9,99.9 L297.5,98.7 L299.1,97.5 L300.7,96.2 L302.3,95.0 L303.9,93.8 L305.5,92.5 L307.1,91.3 L308.7,90.1 L310.4,88.9 L312.0,87.7 L313.6,86.6 L315.3,85.4 L316.9,84.2 L318.6,83.1 L320.3,82.0 L321.9,80.8 L323.6,79.7 L325.3,78.6 L327.0,77.5 L328.7,76.4 L330.4,75.3 L332.1,74.3 L333.8,73.2 L335.5,72.1 L337.3,71.1 L339.0,70.1 L340.7,69.0 L342.5,68.0 L344.2,67.0 L346.0,66.0 L347.7,65.0 L349.5,64.1 L351.3,63.1 L353.0,62.1 L354.8,61.2 L356.6,60.3 L358.4,59.3 L360.2,58.4 L362.0,57.5" fill="none" stroke="#000" stroke-width="2.1" stroke-linejoin="round" stroke-dasharray="0.01 3.4" stroke-linecap="round"/>
<path d="M46.0,284.0 L47.4,282.5 L48.8,281.1 L50.2,279.6 L51.6,278.2 L53.0,276.8 L54.5,275.5 L56.0,274.1 L57.5,272.8 L59.0,271.5 L60.5,270.1 L62.0,268.8 L63.5,267.5 L65.0,266.1 L66.5,264.8 L68.0,263.4 L69.5,262.1 L71.0,260.8 L72.6,259.4 L74.1,258.1 L75.6,256.8 L77.1,255.4 L78.6,254.1 L80.1,252.8 L81.6,251.4 L83.1,250.1 L84.6,248.8 L86.1,247.4 L87.6,246.1 L89.1,244.8 L90.6,243.5 L92.1,242.1 L93.7,240.8 L95.2,239.5 L96.7,238.2 L98.2,236.9 L99.7,235.5 L101.3,234.2 L102.8,232.9 L104.3,231.6 L105.9,230.3 L107.4,229.0 L108.9,227.7 L110.4,226.4 L112.0,225.1 L113.5,223.8 L115.0,222.5 L116.6,221.2 L118.1,219.9 L119.6,218.5 L121.1,217.2 L122.6,215.9 L124.1,214.6 L125.7,213.3 L127.2,212.0 L128.7,210.6 L130.2,209.3 L131.7,208.0 L133.3,206.7 L134.8,205.4 L136.3,204.1 L137.8,202.8 L139.4,201.4 L140.9,200.1 L142.4,198.8 L143.9,197.5 L145.5,196.2 L147.0,194.8 L148.5,193.5 L150.0,192.2 L151.5,190.9 L153.1,189.6 L154.6,188.3 L156.2,187.0 L157.8,185.8 L159.4,184.6 L161.0,183.5 L162.6,182.3 L164.3,181.2 L166.0,180.0 L167.7,178.9 L169.4,177.8 L171.1,176.8 L172.8,175.7 L174.6,174.7 L176.4,173.8 L178.1,172.9 L179.9,172.0 L181.8,171.2 L183.6,170.5 L185.5,169.7 L187.4,169.0 L189.3,168.4 L191.2,167.7 L193.1,167.0 L195.0,166.4 L196.9,165.7 L198.8,165.1 L200.8,164.5 L202.7,164.0 L204.6,163.4 L206.5,162.8 L208.4,162.2 L210.4,161.5 L212.2,160.9 L214.1,160.2 L216.0,159.4 L217.9,158.7 L219.7,157.9 L221.6,157.1 L223.4,156.2 L225.2,155.4 L227.0,154.5 L228.8,153.6 L230.6,152.6 L232.4,151.7 L234.2,150.8 L236.0,149.9 L237.7,149.0 L239.5,148.0 L241.3,147.1 L243.1,146.1 L244.8,145.1 L246.5,144.1 L248.3,143.1 L250.0,142.0 L251.6,140.9 L253.3,139.8 L255.0,138.7 L256.6,137.5 L258.3,136.4 L259.9,135.2 L261.6,134.1 L263.2,132.9 L264.8,131.7 L266.5,130.5 L268.1,129.4 L269.7,128.2 L271.4,127.0 L273.0,125.9 L274.7,124.7 L276.3,123.5 L278.0,122.4 L279.6,121.2 L281.2,120.1 L282.9,118.9 L284.5,117.7 L286.2,116.6 L287.8,115.4 L289.4,114.2 L291.0,113.0 L292.7,111.9 L294.3,110.7 L295.9,109.5 L297.5,108.3 L299.1,107.1 L300.8,105.9 L302.4,104.7 L304.0,103.5 L305.6,102.3 L307.2,101.1 L308.8,99.8 L310.4,98.6 L312.0,97.4 L313.6,96.2 L315.2,95.0 L316.8,93.8 L318.4,92.5 L320.0,91.3 L321.6,90.1 L323.2,88.9 L324.8,87.6 L326.3,86.4 L327.9,85.2 L329.5,83.9 L331.1,82.7 L332.7,81.5 L334.3,80.2 L335.9,79.0 L337.4,77.7 L339.0,76.5 L340.6,75.2 L342.2,74.0 L343.8,72.7 L345.3,71.5 L346.9,70.2 L348.5,69.0 L350.0,67.7 L351.6,66.5 L353.2,65.2 L354.7,64.0 L356.3,62.7 L357.9,61.4 L359.4,60.2 L361.0,58.9" fill="none" stroke="#f00" stroke-width="2.0" stroke-linejoin="round" stroke-dasharray="4.8 1.9"/>
<path d="M46.0,279.8 L47.1,278.1 L48.2,276.4 L49.4,274.8 L50.6,273.2 L51.8,271.6 L53.1,270.1 L54.4,268.5 L55.7,267.0 L57.1,265.6 L58.5,264.1 L59.9,262.7 L61.3,261.2 L62.7,259.8 L64.2,258.4 L65.6,257.0 L67.1,255.6 L68.6,254.2 L70.0,252.8 L71.5,251.5 L73.0,250.1 L74.4,248.7 L75.9,247.4 L77.5,246.1 L79.0,244.8 L80.5,243.4 L82.0,242.1 L83.6,240.8 L85.1,239.5 L86.6,238.2 L88.2,236.9 L89.7,235.6 L91.2,234.3 L92.8,233.0 L94.3,231.7 L95.8,230.4 L97.3,229.1 L98.8,227.7 L100.4,226.4 L101.9,225.1 L103.4,223.8 L104.9,222.5 L106.4,221.2 L108.0,219.8 L109.5,218.5 L111.0,217.2 L112.5,215.9 L114.1,214.6 L115.6,213.3 L117.1,212.0 L118.7,210.7 L120.2,209.4 L121.7,208.1 L123.2,206.8 L124.8,205.5 L126.3,204.2 L127.8,202.8 L129.4,201.5 L130.9,200.2 L132.4,198.9 L133.9,197.6 L135.4,196.3 L137.0,194.9 L138.5,193.6 L140.0,192.3 L141.5,191.0 L143.0,189.6 L144.4,188.2 L145.9,186.9 L147.4,185.5 L148.9,184.2 L150.4,182.8 L151.9,181.5 L153.4,180.1 L154.9,178.8 L156.4,177.5 L158.0,176.2 L159.5,174.9 L161.1,173.7 L162.7,172.4 L164.3,171.2 L165.9,170.1 L167.6,169.0 L169.3,167.9 L171.0,166.8 L172.7,165.7 L174.4,164.7 L176.1,163.6 L177.8,162.6 L179.6,161.6 L181.3,160.5 L183.0,159.5 L184.8,158.5 L186.5,157.4 L188.2,156.4 L189.9,155.3 L191.6,154.3 L193.3,153.2 L195.1,152.2 L196.8,151.1 L198.5,150.1 L200.2,149.0 L201.9,148.0 L203.7,147.0 L205.4,145.9 L207.1,144.9 L208.8,143.8 L210.5,142.8 L212.3,141.8 L214.0,140.7 L215.7,139.7 L217.4,138.7 L219.2,137.6 L220.9,136.6 L222.6,135.5 L224.3,134.5 L226.0,133.5 L227.8,132.4 L229.5,131.4 L231.2,130.3 L232.9,129.3 L234.6,128.2 L236.4,127.2 L238.1,126.1 L239.8,125.1 L241.5,124.0 L243.2,123.0 L244.9,121.9 L246.6,120.9 L248.4,119.8 L250.1,118.8 L251.8,117.8 L253.5,116.7 L255.3,115.7 L257.0,114.7 L258.7,113.7 L260.5,112.6 L262.2,111.6 L263.9,110.6 L265.7,109.6 L267.4,108.6 L269.1,107.5 L270.9,106.5 L272.6,105.5 L274.3,104.5 L276.1,103.5 L277.8,102.5 L279.6,101.5 L281.3,100.5 L283.1,99.5 L284.8,98.5 L286.5,97.5 L288.3,96.4 L290.0,95.4 L291.7,94.3 L293.4,93.2 L295.1,92.1 L296.8,91.1 L298.4,89.9 L300.1,88.8 L301.8,87.7 L303.5,86.6 L305.1,85.5 L306.8,84.3 L308.4,83.2 L310.1,82.1 L311.8,80.9 L313.4,79.8 L315.1,78.6 L316.7,77.5 L318.3,76.3 L320.0,75.2 L321.6,74.0 L323.3,72.8 L324.9,71.7 L326.6,70.5 L328.2,69.4 L329.8,68.2 L331.5,67.0 L333.1,65.8 L334.7,64.6 L336.3,63.5 L338.0,62.3 L339.6,61.1 L341.2,59.9 L342.8,58.7 L344.4,57.5 L346.0,56.3 L347.7,55.1 L349.3,53.9 L350.9,52.6 L352.5,51.4 L354.1,50.2 L355.7,49.0 L357.2,47.7 L358.8,46.5 L360.4,45.2 L362.0,44.0" fill="none" stroke="#ff7f00" stroke-width="2.0" stroke-linejoin="round" stroke-dasharray="4.8 1.9"/>
<path d="M46.0,289.4 L47.4,287.9 L48.8,286.5 L50.2,285.1 L51.7,283.6 L53.1,282.2 L54.5,280.8 L56.0,279.4 L57.4,278.0 L58.9,276.5 L60.3,275.2 L61.8,273.8 L63.3,272.4 L64.7,271.0 L66.2,269.6 L67.7,268.3 L69.2,266.9 L70.7,265.5 L72.2,264.2 L73.7,262.8 L75.2,261.4 L76.7,260.1 L78.2,258.7 L79.7,257.4 L81.2,256.0 L82.7,254.7 L84.2,253.3 L85.7,252.0 L87.2,250.6 L88.7,249.3 L90.2,248.0 L91.7,246.6 L93.2,245.3 L94.7,243.9 L96.3,242.6 L97.8,241.3 L99.3,240.0 L100.8,238.6 L102.4,237.3 L103.9,236.0 L105.4,234.7 L106.9,233.3 L108.5,232.0 L110.0,230.7 L111.5,229.4 L113.1,228.1 L114.6,226.8 L116.1,225.4 L117.7,224.1 L119.2,222.8 L120.7,221.5 L122.3,220.2 L123.8,218.8 L125.3,217.5 L126.8,216.2 L128.3,214.9 L129.9,213.5 L131.4,212.2 L132.9,210.9 L134.5,209.6 L136.0,208.3 L137.5,206.9 L139.1,205.6 L140.6,204.3 L142.2,203.0 L143.7,201.7 L145.3,200.4 L146.8,199.1 L148.4,197.8 L149.9,196.5 L151.5,195.3 L153.0,194.0 L154.6,192.7 L156.2,191.5 L157.8,190.2 L159.4,189.0 L161.0,187.7 L162.6,186.5 L164.2,185.3 L165.9,184.2 L167.5,183.0 L169.1,181.8 L170.8,180.6 L172.5,179.5 L174.1,178.3 L175.8,177.2 L177.4,176.0 L179.1,174.9 L180.8,173.8 L182.4,172.6 L184.1,171.5 L185.8,170.3 L187.4,169.2 L189.1,168.1 L190.8,166.9 L192.5,165.8 L194.2,164.7 L195.8,163.6 L197.5,162.5 L199.2,161.3 L200.9,160.2 L202.6,159.1 L204.3,158.0 L206.0,156.9 L207.6,155.8 L209.3,154.7 L211.0,153.6 L212.7,152.5 L214.4,151.4 L216.1,150.3 L217.8,149.2 L219.5,148.1 L221.2,147.0 L222.9,145.9 L224.6,144.7 L226.3,143.6 L227.9,142.5 L229.6,141.4 L231.3,140.3 L233.0,139.2 L234.7,138.1 L236.4,137.0 L238.1,135.9 L239.8,134.8 L241.5,133.7 L243.2,132.6 L244.9,131.5 L246.6,130.4 L248.3,129.3 L250.0,128.2 L251.7,127.1 L253.4,126.0 L255.1,125.0 L256.8,123.9 L258.5,122.8 L260.2,121.8 L261.9,120.7 L263.7,119.7 L265.4,118.6 L267.1,117.6 L268.8,116.5 L270.6,115.5 L272.3,114.4 L274.0,113.4 L275.8,112.4 L277.5,111.3 L279.3,110.3 L281.0,109.3 L282.8,108.3 L284.5,107.3 L286.2,106.2 L288.0,105.2 L289.7,104.1 L291.4,103.1 L293.1,102.0 L294.8,100.9 L296.5,99.8 L298.2,98.8 L299.9,97.7 L301.6,96.6 L303.3,95.5 L305.0,94.4 L306.7,93.3 L308.4,92.1 L310.1,91.0 L311.8,89.9 L313.5,88.8 L315.2,87.7 L316.8,86.6 L318.5,85.5 L320.2,84.4 L321.9,83.3 L323.6,82.1 L325.3,81.0 L326.9,79.9 L328.6,78.8 L330.3,77.7 L332.0,76.5 L333.7,75.4 L335.3,74.3 L337.0,73.1 L338.7,72.0 L340.4,70.9 L342.0,69.7 L343.7,68.6 L345.4,67.5 L347.0,66.3 L348.7,65.2 L350.4,64.1 L352.0,62.9 L353.7,61.8 L355.4,60.6 L357.0,59.5 L358.7,58.3 L360.3,57.2 L362.0,56.0" fill="none" stroke="#0f0" stroke-width="2.0" stroke-linejoin="round" stroke-dasharray="4.8 1.9"/>
<path d="M215.4,317.0 L215.4,315.0 L215.4,313.0 L215.5,311.0 L215.5,308.9 L215.5,306.9 L215.5,304.9 L215.6,302.9 L215.6,300.9 L215.6,298.9 L215.6,296.8 L215.7,294.8 L215.7,292.8 L215.7,290.8 L215.7,288.8 L215.8,286.8 L215.8,284.8 L215.8,282.7 L215.9,280.7 L215.9,278.7 L215.9,276.7 L215.9,274.7 L216.0,272.7 L216.0,270.6 L216.0,268.6 L216.1,266.6 L216.1,264.6 L216.2,262.6 L216.2,260.6 L216.3,258.6 L216.3,256.5 L216.4,254.5 L216.4,252.5 L216.5,250.5 L216.6,248.5 L216.7,246.5 L216.8,244.5 L216.9,242.4 L217.0,240.4 L217.1,238.4 L217.2,236.4 L217.3,234.4 L217.5,232.4 L217.6,230.4 L217.8,228.4 L217.9,226.3 L218.1,224.3 L218.3,222.3 L218.5,220.3 L218.7,218.3 L218.9,216.3 L219.2,214.3 L219.4,212.3 L219.7,210.3 L220.0,208.3 L220.3,206.3 L220.6,204.4 L221.0,202.4 L221.4,200.4 L221.9,198.4 L222.3,196.5 L222.8,194.5 L223.3,192.5 L223.8,190.6 L224.3,188.6 L224.8,186.7 L225.3,184.7 L225.9,182.8 L226.5,180.9 L227.1,179.0 L227.7,177.0 L228.4,175.1 L229.1,173.2 L229.8,171.4 L230.5,169.5 L231.3,167.6 L232.1,165.8 L232.9,163.9 L233.7,162.1 L234.6,160.2 L235.5,158.4 L236.4,156.6 L237.3,154.8 L238.3,153.1 L239.3,151.3 L240.4,149.6 L241.5,148.0 L242.7,146.3 L243.9,144.7 L245.1,143.1 L246.4,141.5 L247.6,139.9 L248.8,138.3 L250.1,136.8 L251.4,135.2 L252.7,133.6 L254.0,132.1 L255.3,130.6 L256.7,129.1 L258.0,127.6 L259.4,126.2 L260.8,124.7 L262.2,123.3 L263.6,121.8 L265.1,120.4 L266.5,119.0 L268.0,117.6 L269.5,116.2 L271.0,114.9 L272.5,113.6 L274.0,112.3 L275.6,111.0 L277.1,109.7 L278.7,108.5 L280.4,107.3 L282.0,106.2 L283.7,105.0 L285.3,103.8 L287.0,102.7 L288.6,101.5 L290.3,100.4 L291.9,99.2 L293.6,98.1 L295.2,96.9 L296.9,95.8 L298.6,94.6 L300.2,93.5 L301.9,92.3 L303.6,91.2 L305.2,90.1 L306.9,89.0 L308.6,87.9 L310.3,86.8 L312.0,85.7 L313.7,84.6 L315.4,83.5 L317.1,82.4 L318.8,81.4 L320.5,80.3 L322.2,79.2 L323.9,78.2 L325.7,77.1 L327.4,76.1 L329.1,75.0 L330.8,74.0 L332.6,73.0 L334.3,72.0 L336.1,71.0 L337.8,70.0 L339.6,69.0 L341.3,68.0 L343.1,67.0 L344.8,66.0 L346.6,65.1 L348.4,64.1 L350.1,63.1 L351.9,62.1 L353.7,61.1 L355.4,60.2 L357.2,59.2 L359.0,58.2 L360.7,57.3 L362.5,56.3" fill="none" stroke="#f0f" stroke-width="2.0" stroke-linejoin="round" stroke-dasharray="4.8 1.9"/>
<path d="M179.6,317.0 L179.6,315.0 L179.6,313.0 L179.7,310.9 L179.7,308.9 L179.7,306.9 L179.8,304.9 L179.8,302.9 L179.8,300.8 L179.9,298.8 L179.9,296.8 L180.0,294.8 L180.0,292.8 L180.1,290.7 L180.1,288.7 L180.2,286.7 L180.2,284.7 L180.3,282.7 L180.4,280.7 L180.4,278.6 L180.5,276.6 L180.6,274.6 L180.7,272.6 L180.8,270.6 L180.9,268.5 L181.0,266.5 L181.1,264.5 L181.2,262.5 L181.3,260.5 L181.5,258.5 L181.6,256.4 L181.8,254.4 L181.9,252.4 L182.1,250.4 L182.3,248.4 L182.5,246.4 L182.7,244.4 L182.9,242.4 L183.1,240.4 L183.3,238.3 L183.5,236.3 L183.8,234.3 L184.1,232.3 L184.3,230.3 L184.6,228.3 L184.9,226.3 L185.2,224.3 L185.6,222.3 L185.9,220.4 L186.3,218.4 L186.7,216.4 L187.1,214.4 L187.5,212.4 L187.9,210.5 L188.3,208.5 L188.8,206.5 L189.2,204.5 L189.7,202.6 L190.2,200.6 L190.7,198.7 L191.2,196.7 L191.8,194.8 L192.3,192.8 L192.9,190.9 L193.5,189.0 L194.2,187.1 L194.8,185.1 L195.5,183.2 L196.2,181.4 L197.0,179.5 L197.8,177.6 L198.6,175.8 L199.5,174.0 L200.4,172.1 L201.3,170.4 L202.3,168.6 L203.4,166.9 L204.4,165.1 L205.5,163.4 L206.6,161.8 L207.8,160.1 L208.9,158.5 L210.1,156.8 L211.4,155.2 L212.6,153.6 L213.9,152.1 L215.2,150.5 L216.5,148.9 L217.8,147.4 L219.1,145.9 L220.4,144.4 L221.8,142.9 L223.2,141.4 L224.6,139.9 L226.0,138.5 L227.4,137.1 L228.8,135.6 L230.3,134.2 L231.8,132.8 L233.2,131.4 L234.7,130.1 L236.2,128.7 L237.7,127.4 L239.3,126.1 L240.8,124.8 L242.4,123.5 L243.9,122.2 L245.5,120.9 L247.1,119.7 L248.7,118.5 L250.3,117.3 L252.0,116.1 L253.6,114.9 L255.3,113.8 L257.0,112.7 L258.6,111.6 L260.3,110.5 L262.0,109.4 L263.8,108.3 L265.5,107.2 L267.2,106.1 L268.9,105.1 L270.6,104.0 L272.3,102.9 L274.0,101.9 L275.7,100.8 L277.5,99.7 L279.2,98.7 L280.9,97.6 L282.7,96.6 L284.4,95.5 L286.1,94.5 L287.8,93.4 L289.5,92.4 L291.3,91.3 L293.0,90.2 L294.7,89.1 L296.4,88.0 L298.1,87.0 L299.8,85.9 L301.5,84.8 L303.2,83.7 L304.9,82.7 L306.6,81.6 L308.4,80.6 L310.1,79.6 L311.9,78.6 L313.6,77.6 L315.4,76.6 L317.1,75.6 L318.9,74.6 L320.7,73.6 L322.4,72.6 L324.2,71.6 L326.0,70.7 L327.8,69.7 L329.5,68.8 L331.3,67.8 L333.1,66.9 L334.9,65.9 L336.7,65.0 L338.5,64.0 L340.3,63.1 L342.0,62.2 L343.8,61.3 L345.6,60.4 L347.5,59.4 L349.3,58.5 L351.1,57.7 L352.9,56.8 L354.7,55.9 L356.5,55.0 L358.3,54.1 L360.2,53.3 L362.0,52.4" fill="none" stroke="#000" stroke-width="2.0" stroke-linejoin="round" stroke-dasharray="4.8 1.9"/>
<path d="M159.5,317.0 L159.5,315.0 L159.6,313.0 L159.6,311.0 L159.7,308.9 L159.7,306.9 L159.8,304.9 L159.8,302.9 L159.9,300.9 L160.0,298.9 L160.0,296.9 L160.1,294.9 L160.1,292.8 L160.2,290.8 L160.2,288.8 L160.3,286.8 L160.3,284.8 L160.4,282.8 L160.5,280.8 L160.5,278.8 L160.6,276.7 L160.6,274.7 L160.7,272.7 L160.8,270.7 L160.9,268.7 L160.9,266.7 L161.0,264.7 L161.1,262.7 L161.2,260.6 L161.3,258.6 L161.4,256.6 L161.5,254.6 L161.6,252.6 L161.8,250.6 L161.9,248.6 L162.0,246.6 L162.2,244.6 L162.3,242.6 L162.5,240.6 L162.7,238.6 L162.9,236.5 L163.2,234.5 L163.4,232.5 L163.7,230.5 L164.0,228.6 L164.3,226.6 L164.6,224.6 L164.9,222.6 L165.2,220.6 L165.6,218.6 L165.9,216.6 L166.3,214.6 L166.7,212.7 L167.1,210.7 L167.6,208.7 L168.1,206.8 L168.6,204.8 L169.1,202.9 L169.7,201.0 L170.4,199.1 L171.0,197.2 L171.7,195.3 L172.4,193.4 L173.2,191.5 L173.9,189.7 L174.7,187.8 L175.6,186.0 L176.4,184.1 L177.3,182.3 L178.3,180.6 L179.3,178.8 L180.3,177.1 L181.4,175.4 L182.4,173.7 L183.5,171.9 L184.5,170.2 L185.6,168.6 L186.8,166.9 L187.9,165.2 L189.0,163.5 L190.1,161.8 L191.2,160.2 L192.4,158.5 L193.5,156.8 L194.7,155.2 L195.9,153.6 L197.2,152.0 L198.4,150.5 L199.7,149.0 L201.1,147.5 L202.5,146.0 L203.9,144.6 L205.3,143.1 L206.7,141.7 L208.2,140.3 L209.7,138.9 L211.2,137.5 L212.6,136.2 L214.1,134.8 L215.6,133.5 L217.2,132.2 L218.7,130.9 L220.3,129.6 L221.8,128.4 L223.4,127.1 L225.0,125.9 L226.6,124.6 L228.2,123.4 L229.8,122.2 L231.4,121.0 L233.0,119.8 L234.7,118.6 L236.3,117.5 L238.0,116.3 L239.6,115.1 L241.3,114.0 L242.9,112.8 L244.6,111.7 L246.2,110.5 L247.9,109.4 L249.5,108.2 L251.2,107.1 L252.8,105.9 L254.5,104.8 L256.2,103.7 L257.8,102.6 L259.5,101.5 L261.2,100.4 L262.9,99.3 L264.6,98.2 L266.3,97.2 L268.1,96.1 L269.8,95.1 L271.5,94.1 L273.3,93.1 L275.0,92.1 L276.8,91.0 L278.5,90.0 L280.2,89.0 L282.0,88.0 L283.7,87.0 L285.5,86.0 L287.2,85.0 L289.0,84.1 L290.8,83.1 L292.5,82.1 L294.3,81.1 L296.0,80.2 L297.8,79.2 L299.6,78.2 L301.4,77.3 L303.1,76.3 L304.9,75.4 L306.7,74.4 L308.4,73.5 L310.2,72.5 L312.0,71.6 L313.8,70.6 L315.6,69.7 L317.3,68.7 L319.1,67.8 L320.9,66.9 L322.7,65.9 L324.5,65.0 L326.3,64.1 L328.1,63.2 L329.9,62.3 L331.7,61.4 L333.5,60.4 L335.3,59.5 L337.1,58.6 L338.9,57.7 L340.7,56.8 L342.5,56.0 L344.3,55.1 L346.1,54.2 L347.9,53.3 L349.7,52.4 L351.5,51.6 L353.4,50.7 L355.2,49.9 L357.0,49.0 L358.8,48.2 L360.7,47.3 L362.5,46.5" fill="none" stroke="#f00" stroke-width="2.0" stroke-linejoin="round" stroke-dasharray="19.2 3.5 4.5 3.4 17.7 4 4 4 17.1 4 4 3.4 34 4.3 4 3.7 11.3 4.5 4 4.5 10 4.5 4 4.5 10 4.5 4 4.5 10 4.5 4 4.5 10 4.5 4 4.5 10 4.5 4 4.5 10 4.5 4 4.5 10 4.5 4 4.5 10 4.5 4 4.5 10 4.5 4 4.5 10 4.5 4 4.5 10 4.5 4 4.5 10 4.5 4 4.5 10 4.5"/>
<path d="M46.0,261.4 L47.5,260.1 L49.1,258.8 L50.6,257.5 L52.1,256.1 L53.7,254.8 L55.2,253.5 L56.7,252.2 L58.3,250.9 L59.8,249.7 L61.4,248.4 L63.0,247.1 L64.5,245.8 L66.1,244.6 L67.7,243.3 L69.2,242.0 L70.8,240.8 L72.4,239.5 L73.9,238.2 L75.5,236.9 L77.0,235.7 L78.6,234.4 L80.1,233.1 L81.7,231.8 L83.3,230.5 L84.8,229.2 L86.4,228.0 L87.9,226.7 L89.5,225.4 L91.0,224.1 L92.5,222.8 L94.1,221.5 L95.6,220.2 L97.1,218.8 L98.6,217.5 L100.2,216.2 L101.7,214.8 L103.2,213.5 L104.7,212.2 L106.2,210.8 L107.7,209.5 L109.2,208.1 L110.7,206.8 L112.2,205.4 L113.7,204.1 L115.2,202.7 L116.7,201.4 L118.2,200.0 L119.7,198.7 L121.2,197.3 L122.7,196.0 L124.2,194.6 L125.7,193.3 L127.2,191.9 L128.7,190.6 L130.2,189.3 L131.8,188.0 L133.3,186.7 L134.8,185.4 L136.4,184.1 L137.9,182.8 L139.5,181.5 L141.0,180.2 L142.6,178.9 L144.2,177.7 L145.8,176.4 L147.4,175.3 L149.1,174.2 L150.8,173.1 L152.5,172.0 L154.2,171.0 L156.0,170.0 L157.8,169.0 L159.5,168.1 L161.3,167.1 L163.1,166.2 L164.9,165.3 L166.7,164.4 L168.5,163.6 L170.4,162.7 L172.2,161.9 L174.1,161.1 L175.9,160.3 L177.8,159.5 L179.6,158.7 L181.5,157.9 L183.4,157.2 L185.2,156.5 L187.1,155.7 L189.0,155.0 L190.9,154.3 L192.8,153.5 L194.6,152.7 L196.5,152.0 L198.3,151.2 L200.2,150.4 L202.0,149.5 L203.9,148.7 L205.7,147.9 L207.5,147.0 L209.3,146.1 L211.1,145.2 L212.9,144.2 L214.7,143.3 L216.4,142.3 L218.2,141.4 L220.0,140.4 L221.8,139.4 L223.5,138.4 L225.3,137.4 L227.0,136.4 L228.8,135.4 L230.5,134.4 L232.2,133.4 L234.0,132.3 L235.7,131.3 L237.4,130.2 L239.1,129.2 L240.8,128.1 L242.5,127.0 L244.2,125.9 L245.9,124.8 L247.6,123.7 L249.3,122.6 L250.9,121.5 L252.6,120.3 L254.3,119.2 L255.9,118.1 L257.6,116.9 L259.3,115.8 L260.9,114.6 L262.6,113.5 L264.2,112.3 L265.9,111.1 L267.5,110.0 L269.1,108.8 L270.8,107.6 L272.4,106.4 L274.0,105.3 L275.7,104.1 L277.3,102.9 L278.9,101.7 L280.5,100.5 L282.1,99.3 L283.8,98.0 L285.4,96.8 L286.9,95.6 L288.5,94.4 L290.1,93.1 L291.7,91.9 L293.3,90.6 L294.9,89.4 L296.5,88.2 L298.1,86.9 L299.7,85.7 L301.3,84.4 L302.9,83.2 L304.4,82.0 L306.0,80.7 L307.6,79.5 L309.2,78.3 L310.8,77.0 L312.4,75.8 L314.0,74.6 L315.6,73.3 L317.2,72.1 L318.8,70.9 L320.4,69.7 L322.0,68.4 L323.6,67.2 L325.2,66.0 L326.8,64.8 L328.4,63.5 L330.0,62.3 L331.7,61.1 L333.3,59.9 L334.9,58.7 L336.5,57.5 L338.1,56.3 L339.7,55.1 L341.3,53.9 L343.0,52.7 L344.6,51.5 L346.2,50.3 L347.8,49.1 L349.5,47.9 L351.1,46.7 L352.7,45.5 L354.3,44.3 L356.0,43.1 L357.6,41.9 L359.2,40.8 L360.9,39.6 L362.5,38.4" fill="none" stroke="#ff7f00" stroke-width="2.0" stroke-linejoin="round" stroke-dasharray="10 4.5 4 4.5"/>
</g>
<rect x="46" y="0.5" width="317.3" height="316.9" fill="none" stroke="#2a2a2a" stroke-width="1.35"/>
<path d="M46.0,317.4 v-6.3 M46.0,0.5 v6.3 M72.4,317.4 v-3.6 M72.4,0.5 v3.6 M98.9,317.4 v-6.3 M98.9,0.5 v6.3 M125.3,317.4 v-3.6 M125.3,0.5 v3.6 M151.8,317.4 v-6.3 M151.8,0.5 v6.3 M178.2,317.4 v-3.6 M178.2,0.5 v3.6 M204.6,317.4 v-6.3 M204.6,0.5 v6.3 M231.1,317.4 v-3.6 M231.1,0.5 v3.6 M257.5,317.4 v-6.3 M257.5,0.5 v6.3 M284.0,317.4 v-3.6 M284.0,0.5 v3.6 M310.4,317.4 v-6.3 M310.4,0.5 v6.3 M336.8,317.4 v-3.6 M336.8,0.5 v3.6 M363.3,317.4 v-6.3 M363.3,0.5 v6.3 M46,300.4 h6.3 M363.3,300.4 h-6.3 M46,283.3 h3.6 M363.3,283.3 h-3.6 M46,266.1 h3.6 M363.3,266.1 h-3.6 M46,249.0 h3.6 M363.3,249.0 h-3.6 M46,231.8 h3.6 M363.3,231.8 h-3.6 M46,214.6 h6.3 M363.3,214.6 h-6.3 M46,197.5 h3.6 M363.3,197.5 h-3.6 M46,180.4 h3.6 M363.3,180.4 h-3.6 M46,163.2 h3.6 M363.3,163.2 h-3.6 M46,146.1 h3.6 M363.3,146.1 h-3.6 M46,128.9 h6.3 M363.3,128.9 h-6.3 M46,111.8 h3.6 M363.3,111.8 h-3.6 M46,94.6 h3.6 M363.3,94.6 h-3.6 M46,77.5 h3.6 M363.3,77.5 h-3.6 M46,60.3 h3.6 M363.3,60.3 h-3.6 M46,43.1 h6.3 M363.3,43.1 h-6.3 M46,26.0 h3.6 M363.3,26.0 h-3.6 M46,8.9 h3.6 M363.3,8.9 h-3.6" stroke="#222" stroke-width="1.2" fill="none"/>
<path d="M58.5,17.6 H92.5" stroke="#f00" stroke-width="1.6"/>
<path d="M58.5,31.6 H92.5" stroke="#ff7f00" stroke-width="1.6"/>
<path d="M58.5,45.5 H92.5" stroke="#0f0" stroke-width="1.6"/>
<path d="M58.5,59.4 H92.5" stroke="#f0f" stroke-width="1.6"/>
<path d="M58.5,73.4 H92.5" stroke="#000" stroke-width="1.6"/>
<path d="M58.5,87.3 H92.5" stroke="#f00" stroke-width="1.6" stroke-dasharray="1.3 1.65"/>
<path d="M58.5,101.3 H92.5" stroke="#ff7f00" stroke-width="1.6" stroke-dasharray="1.3 1.65"/>
<path d="M58.5,115.2 H92.5" stroke="#0f0" stroke-width="1.6" stroke-dasharray="1.3 1.65"/>
<path d="M58.5,129.2 H92.5" stroke="#f0f" stroke-width="1.6" stroke-dasharray="1.3 1.65"/>
<path d="M58.5,143.2 H92.5" stroke="#000" stroke-width="1.6" stroke-dasharray="1.3 1.65"/>
<path d="M58.5,157.1 H92.5" stroke="#f00" stroke-width="1.6" stroke-dasharray="3.9 1.55"/>
<path d="M58.5,171.0 H92.5" stroke="#ff7f00" stroke-width="1.6" stroke-dasharray="3.9 1.55"/>
<path d="M147.5,17.6 H182" stroke="#0f0" stroke-width="1.6" stroke-dasharray="3.9 1.55"/>
<path d="M147.5,31.6 H182" stroke="#f0f" stroke-width="1.6" stroke-dasharray="3.9 1.55"/>
<path d="M147.5,45.5 H182" stroke="#000" stroke-width="1.6" stroke-dasharray="3.9 1.55"/>
<path d="M147.5,59.4 H182" stroke="#f00" stroke-width="1.6" stroke-dasharray="10 4.5 4 4.5"/>
<path d="M147.5,73.4 H182" stroke="#ff7f00" stroke-width="1.6" stroke-dasharray="10 4.5 4 4.5"/>
<g opacity="0.99" text-rendering="geometricPrecision">
<text x="100.2" y="22.1" class="lg">WFF1</text>
<text x="100.2" y="36.0" class="lg">WFF2</text>
<text x="100.2" y="50.0" class="lg">WFF3</text>
<text x="100.2" y="63.9" class="lg">AP4</text>
<text x="100.2" y="77.9" class="lg">AP3</text>
<text x="100.2" y="91.8" class="lg">MS1</text>
<text x="100.2" y="105.8" class="lg">MS3</text>
<text x="100.2" y="119.8" class="lg">GM3</text>
<text x="100.2" y="133.7" class="lg">ENG</text>
<text x="100.2" y="147.7" class="lg">PAL</text>
<text x="100.2" y="161.6" class="lg">GS1</text>
<text x="100.2" y="175.5" class="lg">GS2</text>
<text x="189.4" y="22.1" class="lg">PCL2</text>
<text x="189.4" y="36.0" class="lg">SQM1</text>
<text x="189.4" y="50.0" class="lg">SQM2</text>
<text x="189.4" y="63.9" class="lg">SQM3</text>
<text x="189.4" y="77.9" class="lg">PS</text>
<text transform="translate(46.3,334.3) scale(0.9,1)" class="tk" text-anchor="middle">14.2</text>
<text transform="translate(99.2,334.3) scale(0.9,1)" class="tk" text-anchor="middle">14.4</text>
<text transform="translate(152.1,334.3) scale(0.9,1)" class="tk" text-anchor="middle">14.6</text>
<text transform="translate(204.9,334.3) scale(0.9,1)" class="tk" text-anchor="middle">14.8</text>
<text transform="translate(257.8,334.3) scale(0.9,1)" class="tk" text-anchor="middle">15.0</text>
<text transform="translate(310.7,334.3) scale(0.9,1)" class="tk" text-anchor="middle">15.2</text>
<text transform="translate(363.6,334.3) scale(0.9,1)" class="tk" text-anchor="middle">15.4</text>
<text transform="translate(38.8,305.1) scale(0.9,1)" class="tk" text-anchor="end">33</text>
<text transform="translate(38.8,219.3) scale(0.9,1)" class="tk" text-anchor="end">34</text>
<text transform="translate(38.8,133.6) scale(0.9,1)" class="tk" text-anchor="end">35</text>
<text transform="translate(38.8,47.8) scale(0.9,1)" class="tk" text-anchor="end">36</text>
<text x="155.8" y="355.0" class="ax" style="letter-spacing:0.7px">log</text>
<text x="177.8" y="358.6" class="ax" style="font-size:9.6px;letter-spacing:0.4px">10</text>
<text x="189.2" y="355.0" style="font-family:'Liberation Sans',sans-serif;font-style:italic;font-weight:bold;font-size:15px">ρ</text>
<text x="203.2" y="355.0" class="ax" style="letter-spacing:1.85px">[g/cm<tspan dy="-5" style="font-size:8.8px">3</tspan><tspan dy="5">]</tspan></text>
<g transform="translate(12.5,218.3) rotate(-90)"><text x="0" y="0" class="ax" style="letter-spacing:0.5px">log</text><text x="19.2" y="3.6" class="ax" style="font-size:9.3px;letter-spacing:0px">10</text><text x="27.8" y="0" class="ax">P</text><text x="42.2" y="0" class="ax" style="letter-spacing:1.9px">[dyne/cm<tspan dy="-5" style="font-size:8.8px">2</tspan><tspan dy="5">]</tspan></text></g>
</g>
</svg>
</body></html>
